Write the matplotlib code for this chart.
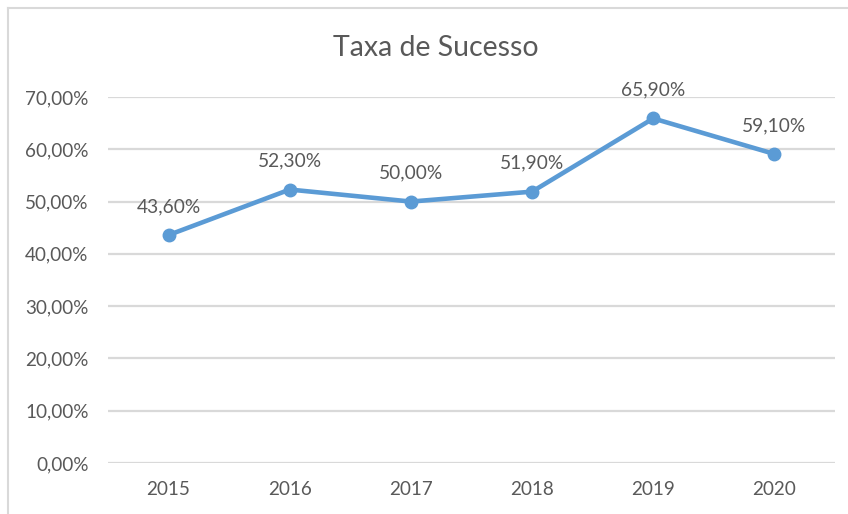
import matplotlib
matplotlib.use('Agg')
import matplotlib.pyplot as plt
from matplotlib.lines import Line2D

# Dados do gráfico
anos = ['2015', '2016', '2017', '2018', '2019', '2020']
taxa = [0.436, 0.523, 0.500, 0.519, 0.659, 0.591]
rotulos = ['43,60%', '52,30%', '50,00%', '51,90%', '65,90%', '59,10%']
yticks = [0.0, 0.1, 0.2, 0.3, 0.4, 0.5, 0.6, 0.7]

cinza = '#595959'
azul = '#5B9BD5'
plt.rcParams['font.family'] = ['Lato', 'DejaVu Sans']

fig = plt.figure(figsize=(8.48, 5.14), dpi=100)
ax = fig.add_axes([108 / 848, 1 - 463 / 514, 727 / 848, 366 / 514])

x = list(range(len(anos)))
ax.plot(x, taxa, color=azul, linewidth=3.3, marker='o', markersize=9, zorder=3)
for xi, yi, lab in zip(x, taxa, rotulos):
    ax.annotate(lab, (xi, yi), xytext=(0, 20.5), textcoords='offset points',
                ha='center', va='center', fontsize=13.8, color=cinza)

ax.set_xlim(-0.5, len(anos) - 0.5)
ax.set_ylim(0, 0.7)
ax.set_yticks(yticks)
ax.set_yticklabels([f'{v * 100:.2f}%'.replace('.', ',') for v in yticks])
ax.set_xticks(x)
ax.set_xticklabels(anos)
ax.tick_params(axis='both', length=0, labelsize=13.6, labelcolor=cinza)
ax.tick_params(axis='y', pad=14)
ax.tick_params(axis='x', pad=13)
ax.grid(axis='y', color='#D9D9D9', linewidth=1.6)
ax.set_axisbelow(True)
for s in ax.spines.values():
    s.set_visible(False)

fig.text(436 / 848, 1 - 48 / 514, 'Taxa de Sucesso', ha='center', va='center',
         fontsize=20.5, color=cinza)

# borda do gráfico (só topo e esquerda aparecem)
fig.add_artist(Line2D([8 / 848, 1], [1 - 8 / 514] * 2, color='#D9D9D9', linewidth=1.5))
fig.add_artist(Line2D([8 / 848] * 2, [0, 1 - 8 / 514], color='#D9D9D9', linewidth=1.5))

fig.savefig('out.png', dpi=100)
